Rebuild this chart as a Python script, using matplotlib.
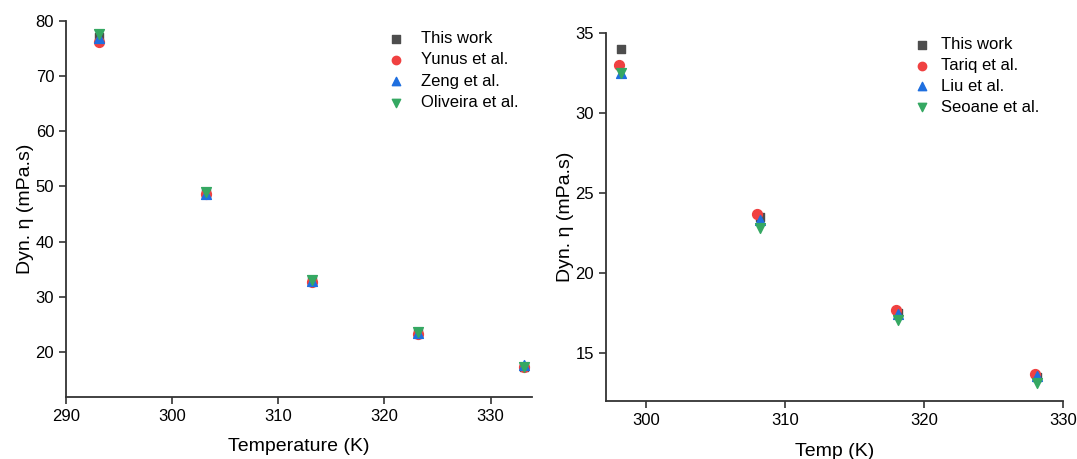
import matplotlib.pyplot as plt

plt.rcParams['font.family'] = ['Liberation Sans', 'DejaVu Sans']

# Left panel data
temp_a = [293.15, 303.15, 313.15, 323.15, 333.15]
this_work_a = [77.2, 48.8, 32.8, 23.4, 17.3]
yunus = [76.2, 48.7, 32.7, 23.3, 17.2]
zeng = [77.0, 48.7, 32.8, 23.4, 17.6]
oliveira = [77.6, 49.0, 33.0, 23.6, 17.3]

# Right panel data
temp_b = [298.15, 308.15, 318.15, 328.15]
temp_tariq = [298.0, 307.95, 317.95, 327.95]
this_work_b = [34.0, 23.5, 17.5, 13.5]
tariq = [33.0, 23.7, 17.7, 13.7]
liu = [32.5, 23.3, 17.45, 13.6]
seoane = [32.5, 22.85, 17.05, 13.15]

c_work = '#4d4d4d'
c_red = '#f04141'
c_blue = '#1f6fdf'
c_green = '#35a862'

fig = plt.figure(figsize=(10.77, 4.59), dpi=100)
ax1 = fig.add_axes([0.0613, 0.135, 0.4327, 0.819])
ax2 = fig.add_axes([0.5627, 0.126, 0.4243, 0.802])


def style(ax):
    for s in ['top', 'right']:
        ax.spines[s].set_visible(False)
    for s in ['left', 'bottom']:
        ax.spines[s].set_color('#333333')
        ax.spines[s].set_linewidth(1.3)
    ax.tick_params(direction='out', length=5, width=1.2, color='#333333', labelsize=12)


ms = 50
ax1.scatter(temp_a, this_work_a, marker='s', s=ms * 0.8, color=c_work, label='This work', zorder=2)
ax1.scatter(temp_a, yunus, marker='o', s=ms, color=c_red, label='Yunus et al.', zorder=3)
ax1.scatter(temp_a, zeng, marker='^', s=ms, color=c_blue, label='Zeng et al.', zorder=4)
ax1.scatter(temp_a, oliveira, marker='v', s=ms, color=c_green, label='Oliveira et al.', zorder=5)
ax1.set_xlim(290, 333.9)
ax1.set_ylim(11.8, 80)
ax1.set_xticks([290, 300, 310, 320, 330])
ax1.set_yticks([20, 30, 40, 50, 60, 70, 80])
ax1.set_xlabel('Temperature (K)', fontsize=14, labelpad=10)
ax1.set_ylabel('Dyn. η (mPa.s)', fontsize=14, labelpad=1)
style(ax1)
ax1.legend(loc='upper left', frameon=False, fontsize=12, handletextpad=0.55,
           labelspacing=0.38, bbox_to_anchor=(0.65, 1.0), markerscale=0.85,
           borderaxespad=0.2)

ax2.scatter(temp_b, this_work_b, marker='s', s=ms * 0.8, color=c_work, label='This work', zorder=2)
ax2.scatter(temp_tariq, tariq, marker='o', s=ms, color=c_red, label='Tariq et al.', zorder=3)
ax2.scatter(temp_b, liu, marker='^', s=ms, color=c_blue, label='Liu et al.', zorder=4)
ax2.scatter(temp_b, seoane, marker='v', s=ms, color=c_green, label='Seoane et al.', zorder=5)
ax2.set_xlim(297.1, 330)
ax2.set_ylim(12, 35)
ax2.set_xticks([300, 310, 320, 330])
ax2.set_yticks([15, 20, 25, 30, 35])
ax2.set_xlabel('Temp (K)', fontsize=14, labelpad=11)
ax2.set_ylabel('Dyn. η (mPa.s)', fontsize=14, labelpad=1)
style(ax2)
ax2.legend(loc='upper left', frameon=False, fontsize=12, handletextpad=0.15,
           labelspacing=0.35, bbox_to_anchor=(0.633, 1.016), markerscale=0.85,
           borderaxespad=0.2)

fig.savefig('out.png', dpi=100)
